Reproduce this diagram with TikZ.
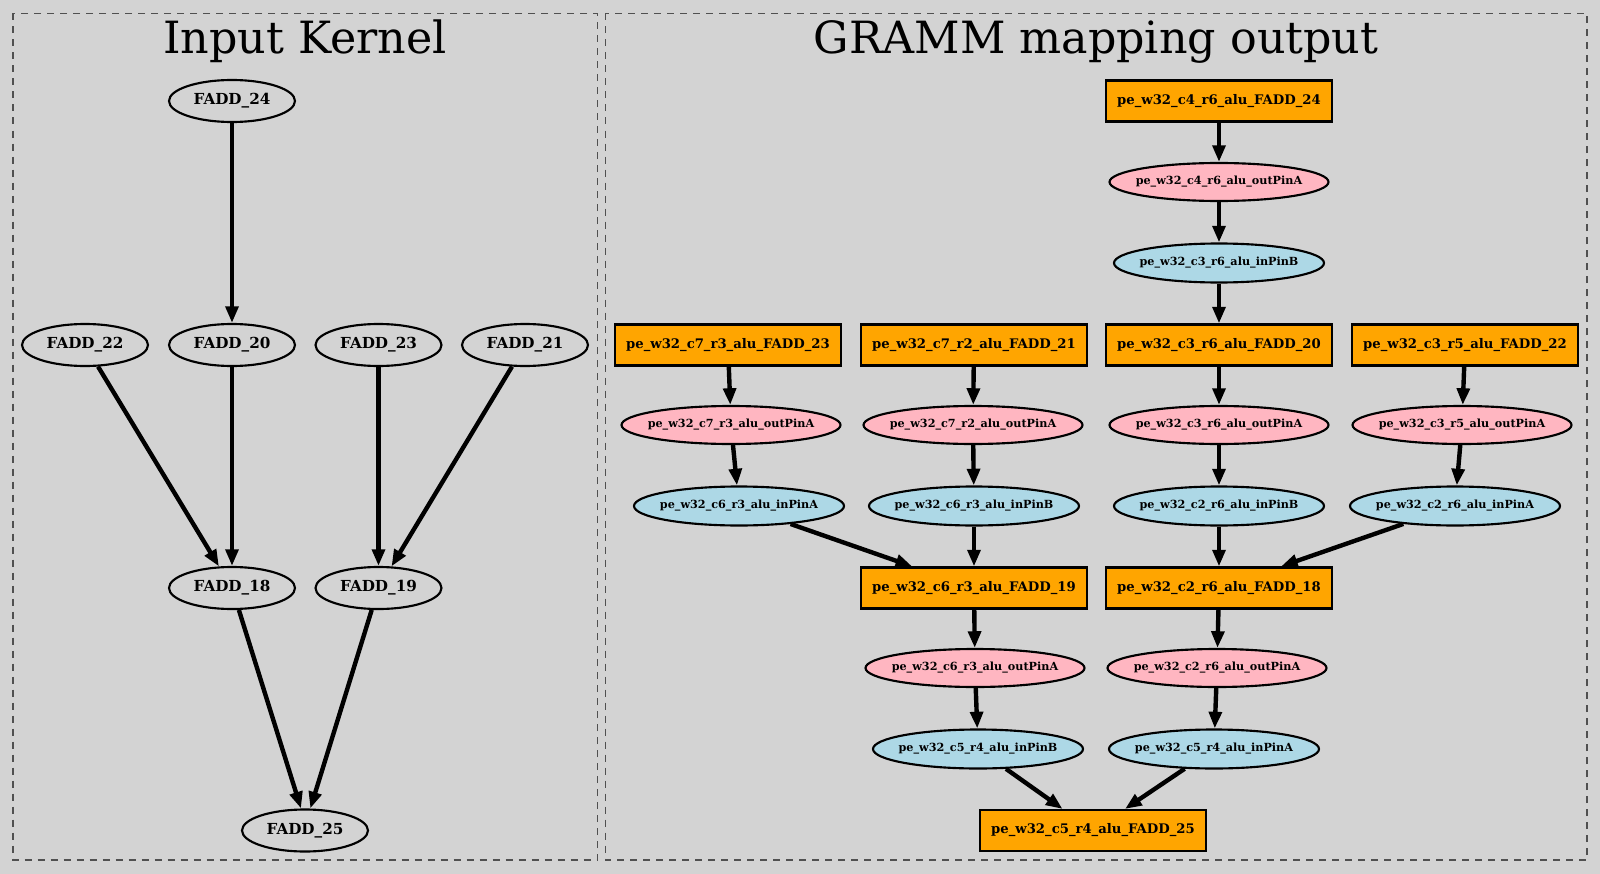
\documentclass[tikz,border=0pt]{standalone}
\usepackage{fontspec}
\setmainfont{DejaVu Serif}
\usetikzlibrary{shapes.geometric,arrows.meta}
\definecolor{bggray}{HTML}{D3D3D3}
\definecolor{fuorange}{HTML}{FFA500}
\definecolor{outpink}{HTML}{FFB6C1}
\definecolor{inblue}{HTML}{ADD8E6}
\definecolor{clusterline}{HTML}{505050}
\begin{document}
\begin{tikzpicture}[x=0.75pt,y=-0.75pt,
  cluster/.style={draw=clusterline,line width=1pt,dash pattern=on 5.25pt off 4.5pt},
  ctitle/.style={anchor=base,inner sep=0pt,font=\fontsize{33.3}{38}\selectfont},
  knode/.style={ellipse,draw,line width=1.6pt,minimum width=94.5pt,minimum height=31.5pt,inner sep=0pt,font=\fontsize{11.4}{13}\selectfont\bfseries},
  fubox/.style={rectangle,draw,fill=fuorange,line width=1.6pt,minimum width=169.5pt,minimum height=30.75pt,inner sep=0pt,font=\fontsize{9.9}{12}\selectfont\bfseries},
  outpin/.style={ellipse,draw,fill=outpink,line width=1.6pt,minimum width=164.25pt,minimum height=28.5pt,inner ysep=0pt,inner xsep=-15pt,font=\fontsize{8.4}{10}\selectfont\bfseries},
  inpin/.style={ellipse,draw,fill=inblue,line width=1.6pt,minimum width=157.5pt,minimum height=29.25pt,inner ysep=0pt,inner xsep=-15pt,font=\fontsize{8.4}{10}\selectfont\bfseries},
  flow/.style={line width=3.3pt,-{Triangle[length=12.5pt,width=9.5pt]}}]
\fill[bggray] (0,0) rectangle (1600,874);
\useasboundingbox (0,0) rectangle (1600,874);
\draw[cluster] (13,13.5) rectangle (597.5,860);
\draw[cluster] (605.5,13.5) rectangle (1587,860);
\node[ctitle] (t1) at (305,54) {Input Kernel};
\node[ctitle] (t2) at (1096,54) {GRAMM mapping output};
\node[knode] (k24) at (232,101) {FADD\_24};
\node[knode] (k22) at (85,345) {FADD\_22};
\node[knode] (k20) at (232,345) {FADD\_20};
\node[knode] (k23) at (378.5,345) {FADD\_23};
\node[knode] (k21) at (525,345) {FADD\_21};
\node[knode] (k18) at (232,588) {FADD\_18};
\node[knode] (k19) at (378.5,588) {FADD\_19};
\node[knode] (k25) at (305,830.5) {FADD\_25};
\draw[flow] (k24) -- (k20);
\draw[flow] (k22) -- (k18);
\draw[flow] (k20) -- (k18);
\draw[flow] (k23) -- (k19);
\draw[flow] (k21) -- (k19);
\draw[flow] (k18) -- ([xshift=-3pt]k25.north);
\draw[flow] (k19) -- ([xshift=4pt]k25.north);
\node[fubox] (m24) at (1219,101) {pe\_w32\_c4\_r6\_alu\_FADD\_24};
\node[outpin] (m24o) at (1219,182) {pe\_w32\_c4\_r6\_alu\_outPinA};
\node[inpin] (m24i) at (1219,263) {pe\_w32\_c3\_r6\_alu\_inPinB};
\node[fubox] (m23) at (728,345) {pe\_w32\_c7\_r3\_alu\_FADD\_23};
\node[fubox] (m21) at (974,345) {pe\_w32\_c7\_r2\_alu\_FADD\_21};
\node[fubox] (m20) at (1219,345) {pe\_w32\_c3\_r6\_alu\_FADD\_20};
\node[fubox] (m22) at (1465,345) {pe\_w32\_c3\_r5\_alu\_FADD\_22};
\node[outpin] (m23o) at (731,425) {pe\_w32\_c7\_r3\_alu\_outPinA};
\node[outpin] (m21o) at (973,425) {pe\_w32\_c7\_r2\_alu\_outPinA};
\node[outpin] (m20o) at (1219,425) {pe\_w32\_c3\_r6\_alu\_outPinA};
\node[outpin] (m22o) at (1462,425) {pe\_w32\_c3\_r5\_alu\_outPinA};
\node[inpin] (m23i) at (739,506) {pe\_w32\_c6\_r3\_alu\_inPinA};
\node[inpin] (m21i) at (974,506) {pe\_w32\_c6\_r3\_alu\_inPinB};
\node[inpin] (m20i) at (1219,506) {pe\_w32\_c2\_r6\_alu\_inPinB};
\node[inpin] (m22i) at (1455,506) {pe\_w32\_c2\_r6\_alu\_inPinA};
\node[fubox] (m19) at (974,588) {pe\_w32\_c6\_r3\_alu\_FADD\_19};
\node[fubox] (m18) at (1219,588) {pe\_w32\_c2\_r6\_alu\_FADD\_18};
\node[outpin] (m19o) at (975,668) {pe\_w32\_c6\_r3\_alu\_outPinA};
\node[outpin] (m18o) at (1217,668) {pe\_w32\_c2\_r6\_alu\_outPinA};
\node[inpin] (m19i) at (978,749) {pe\_w32\_c5\_r4\_alu\_inPinB};
\node[inpin] (m18i) at (1214,749) {pe\_w32\_c5\_r4\_alu\_inPinA};
\node[fubox] (m25) at (1093,830.5) {pe\_w32\_c5\_r4\_alu\_FADD\_25};
\draw[flow] (m24) -- (m24o);
\draw[flow] (m24o) -- (m24i);
\draw[flow] (m24i) -- (m20);
\draw[flow] (m23) -- (m23o);
\draw[flow] (m21) -- (m21o);
\draw[flow] (m20) -- (m20o);
\draw[flow] (m22) -- (m22o);
\draw[flow] (m23o) -- (m23i);
\draw[flow] (m21o) -- (m21i);
\draw[flow] (m20o) -- (m20i);
\draw[flow] (m22o) -- (m22i);
\draw[flow] (m23i) -- (m19);
\draw[flow] (m21i) -- (m19);
\draw[flow] (m20i) -- (m18);
\draw[flow] (m22i) -- (m18);
\draw[flow] (m19) -- (m19o);
\draw[flow] (m18) -- (m18o);
\draw[flow] (m19o) -- (m19i);
\draw[flow] (m18o) -- (m18i);
\draw[flow] (m19i) -- (m25);
\draw[flow] (m18i) -- (m25);
\end{tikzpicture}
\end{document}
